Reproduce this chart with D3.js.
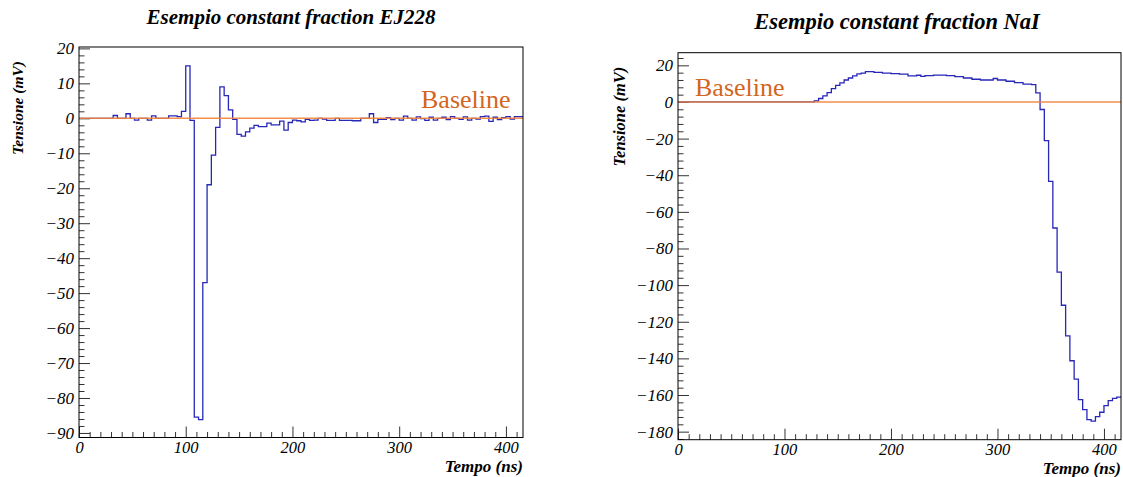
<!DOCTYPE html>
<html>
<head>
<meta charset="utf-8">
<script src="https://cdn.jsdelivr.net/npm/d3@7"></script>
<style>
  html, body { margin: 0; padding: 0; background: #fff; }
  svg { display: block; }
  text { font-family: "Liberation Serif", "Times New Roman", serif; }
</style>
</head>
<body>
<svg id="chart" width="1123" height="477"></svg>
<script>
// Sampling: 4 ns bins from 0 to 416 ns
const BIN_NS = 4;
const TIME_RANGE_NS = [0, 416];

// EJ228 constant-fraction waveform, mV per bin
const ej228mV = [
  0, 0, 0, 0, 0, 0, 0, 0,
  0.8, 0, 0, 1.3, 0, -0.5, 0, 0,
  -0.5, 0.7, 0, 0, 0, 0.7, 0.7, 0.5,
  2.0, 15.0, -0.6, -85.5, -86.2, -47.0, -19.0, -10.5,
  -2.6, 9.0, 6.5, 2.4, -0.3, -4.6, -5.1, -3.9,
  -2.8, -2.0, -2.4, -2.4, -1.4, -1.9, -1.9, -0.8,
  -3.4, -1.2, -0.5, -0.7, -1.0, -0.3, -0.6, -0.5,
  0, -0.2, -0.6, -0.6, 0, -0.6, -0.6, -0.6,
  -0.7, -0.7, 0, 0, 1.3, -1.2, -0.3, -0.3,
  0.2, -0.4, 0, -0.5, 0.6, 0, -0.5, 0.4,
  -0.1, -0.6, 0.3, -0.5, 0, 0.3, -0.4, 0.5,
  0, -0.3, 0.4, -0.5, 0, -0.2, 0.5, 0.6,
  -0.9, 0.3, -0.4, 0.2, 0.5, -0.2, 0.5, 0.5
];

// NaI constant-fraction waveform, mV per bin
const naimV = [
  0, 0, 0, 0, 0, 0, 0, 0,
  0, 0, 0, 0, 0, 0, 0, 0,
  0, 0, 0, 0, 0, 0, 0, 0,
  0, 0, 0, 0, 0, 0, 0, 0,
  0.6, 1.9, 3.3, 5.1, 7.3, 9.1, 10.4, 12.0,
  13.1, 14.2, 15.3, 15.8, 16.6, 16.6, 16.2, 16.2,
  15.8, 15.8, 15.5, 15.5, 15.2, 15.2, 14.2, 14.2,
  14.6, 14.0, 14.4, 14.4, 14.7, 14.7, 14.7, 14.4,
  14.4, 13.8, 13.8, 13.1, 13.1, 12.4, 12.4, 12.0,
  12.0, 12.0, 12.8, 12.0, 12.0, 11.3, 11.3, 10.6,
  10.6, 9.7, 9.7, 9.5, 5.0, -4.1, -21.1, -43.4,
  -68.8, -92.9, -111.0, -127.7, -141.3, -151.3, -162.5, -168.0,
  -173.4, -174.3, -171.8, -169.4, -165.8, -163.1, -161.8, -161.2
];

// Axis ticks
const timeTicksNs = [0, 100, 200, 300, 400];
const ej228TicksMV = [20, 10, 0, -10, -20, -30, -40, -50, -60, -70, -80, -90];
const naiTicksMV = [20, 0, -20, -40, -60, -80, -100, -120, -140, -160, -180];

// Texts
const chartTitles = ["Esempio constant fraction EJ228", "Esempio constant fraction NaI"];
const xAxisTitle = "Tempo (ns)";
const yAxisTitle = "Tensione (mV)";
const baselineLabel = "Baseline";
const baselineMV = 0;

const HIST_COLOR = "#2727b8";
const BASE_COLOR = "#f2843a";
const BASE_TEXT = "#d2661f";

const panels = [
  {
    values: ej228mV, yTicks: ej228TicksMV, yMinorStep: 2,
    yDomain: [-91.3, 20.4],
    frame: { left: 79, right: 523, top: 47, bottom: 437.5 },
    title: chartTitles[0], titleX: 291, titleY: 24, titleSize: 21,
    yTitleX: 23, yTitleSize: 15.5,
    labelX: 421, labelY: 108, xTitleY: 472
  },
  {
    values: naimV, yTicks: naiTicksMV, yMinorStep: 4,
    yDomain: [-184.4, 26.9],
    frame: { left: 678, right: 1121, top: 52.7, bottom: 439.7 },
    title: chartTitles[1], titleX: 897, titleY: 29, titleSize: 22.5,
    yTitleX: 625, yTitleSize: 16.5,
    labelX: 695, labelY: 96, xTitleY: 474
  }
];

const svg = d3.select("#chart");
const fmt = d3.format("d");

panels.forEach(p => {
  const f = p.frame;
  const x = d3.scaleLinear().domain(TIME_RANGE_NS).range([f.left, f.right]);
  const y = d3.scaleLinear().domain(p.yDomain).range([f.bottom, f.top]);
  const g = svg.append("g");

  // Minor ticks
  const xMinor = d3.range(0, TIME_RANGE_NS[1] + 0.001, 10).filter(v => v % 100 !== 0);
  const yMinor = d3.range(Math.ceil(p.yDomain[0] / p.yMinorStep) * p.yMinorStep,
                          p.yDomain[1] + 0.001, p.yMinorStep)
                   .filter(v => !p.yTicks.includes(v));

  g.append("g")
    .attr("transform", `translate(0,${f.bottom})`)
    .call(d3.axisBottom(x).tickValues(xMinor).tickSizeInner(-5.5).tickSizeOuter(0).tickFormat(""))
    .call(s => s.select(".domain").remove())
    .call(s => s.selectAll("line").attr("stroke", "#333"));

  g.append("g")
    .attr("transform", `translate(${f.left},0)`)
    .call(d3.axisLeft(y).tickValues(yMinor).tickSizeInner(-5.5).tickSizeOuter(0).tickFormat(""))
    .call(s => s.select(".domain").remove())
    .call(s => s.selectAll("line").attr("stroke", "#333"));

  // Major ticks with labels
  g.append("g")
    .attr("transform", `translate(0,${f.bottom})`)
    .call(d3.axisBottom(x).tickValues(timeTicksNs).tickSizeInner(-11).tickSizeOuter(0)
            .tickPadding(4).tickFormat(fmt))
    .call(s => s.select(".domain").remove())
    .call(s => s.selectAll("line").attr("stroke", "#333"))
    .call(s => s.selectAll("text")
      .attr("y", 4).attr("dy", "0.71em")
      .style("font-family", "'Liberation Serif', serif")
      .style("font-style", "italic").style("font-size", "16.5px").attr("fill", "#000"));

  g.append("g")
    .attr("transform", `translate(${f.left},0)`)
    .call(d3.axisLeft(y).tickValues(p.yTicks).tickSizeInner(-11).tickSizeOuter(0)
            .tickPadding(5).tickFormat(fmt))
    .call(s => s.select(".domain").remove())
    .call(s => s.selectAll("line").attr("stroke", "#333"))
    .call(s => s.selectAll("text")
      .attr("x", -5)
      .style("font-family", "'Liberation Serif', serif")
      .style("font-style", "italic").style("font-size", "17px").attr("fill", "#000"));

  // Waveform histogram as steps
  const pts = p.values.map((v, i) => [i * BIN_NS, v]);
  pts.push([p.values.length * BIN_NS, p.values[p.values.length - 1]]);
  const step = d3.line().x(d => x(d[0])).y(d => y(d[1])).curve(d3.curveStepAfter);
  g.append("path")
    .datum(pts)
    .attr("d", step)
    .attr("fill", "none")
    .attr("stroke", HIST_COLOR)
    .attr("stroke-width", 1.3);

  // Baseline
  g.append("line")
    .attr("x1", x(TIME_RANGE_NS[0])).attr("x2", x(TIME_RANGE_NS[1]))
    .attr("y1", y(baselineMV)).attr("y2", y(baselineMV))
    .attr("stroke", BASE_COLOR).attr("stroke-width", 1.4).attr("opacity", 0.9);

  g.append("text")
    .attr("x", p.labelX).attr("y", p.labelY)
    .attr("fill", BASE_TEXT)
    .style("font-size", "26px")
    .text(baselineLabel);

  // Frame
  g.append("rect")
    .attr("x", f.left).attr("y", f.top)
    .attr("width", f.right - f.left).attr("height", f.bottom - f.top)
    .attr("fill", "none").attr("stroke", "#000").attr("stroke-width", 1);

  // Titles
  g.append("text")
    .attr("x", p.titleX).attr("y", p.titleY)
    .attr("text-anchor", "middle")
    .style("font-weight", "bold").style("font-style", "italic").style("font-size", p.titleSize + "px")
    .text(p.title);

  g.append("text")
    .attr("x", f.right).attr("y", p.xTitleY)
    .attr("text-anchor", "end")
    .style("font-weight", "bold").style("font-style", "italic").style("font-size", "17px")
    .text(xAxisTitle);

  g.append("text")
    .attr("transform", `translate(${p.yTitleX},${f.top + 14}) rotate(-90)`)
    .attr("text-anchor", "end")
    .style("font-weight", "bold").style("font-style", "italic").style("font-size", p.yTitleSize + "px")
    .text(yAxisTitle);
});
</script>
</body>
</html>
